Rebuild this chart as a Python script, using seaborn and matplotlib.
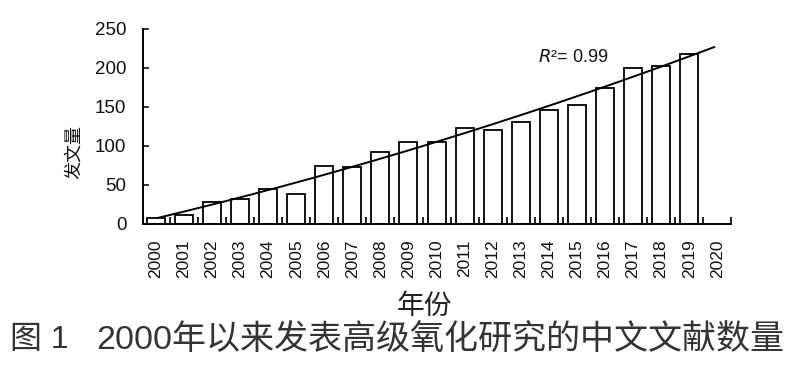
import numpy as np
import pandas as pd
import matplotlib.pyplot as plt
import seaborn as sns

# ===============================
# DATA
# ===============================
years = [str(y) for y in range(2000, 2021)]
bar_years = years[:20]
counts = [8, 11, 28, 32, 45, 39, 74, 73, 92, 105,
          105, 123, 120, 131, 146, 152, 174, 200, 202, 218]
y_ticks = [0, 50, 100, 150, 200, 250]
r2_label = "0.99"

df = pd.DataFrame({"year": bar_years, "count": counts})

# ===============================
# STYLE
# ===============================
sns.set_theme(style="ticks")
plt.rcParams["font.family"] = ["Liberation Sans", "Noto Sans CJK SC", "DejaVu Sans"]
ink = "#111111"

fig = plt.figure(figsize=(7.94, 3.66), dpi=100)
ax = fig.add_axes([0.180, 0.388, 0.741, 0.533])

sns.barplot(data=df, x="year", y="count", order=years, ax=ax,
            color="white", edgecolor="black", linewidth=1.3,
            width=0.64, saturation=1)

# quadratic trend line (R^2 = 0.99)
pos = np.arange(len(counts))
coef = np.polyfit(pos, counts, 2)
xs = np.linspace(0.1, 19.9, 200)
ax.plot(xs, np.polyval(coef, xs), color="black", lw=1.4)

ax.text(13.6, 213, "$R$²= " + r2_label, fontsize=13, color=ink,
        va="center", ha="left")

# ===============================
# AXES
# ===============================
ax.set_xlim(-0.46, 20.35)
ax.set_ylim(0, 250)
ax.set_yticks(y_ticks)
ax.tick_params(axis="y", direction="in", length=4, width=1.2,
               labelsize=13.5, pad=12, colors=ink)
ax.set_xticks(range(len(years)))
ax.set_xticklabels(years, rotation=90)
ax.tick_params(axis="x", which="major", length=0, labelsize=12.5,
               pad=11, colors=ink)
ax.set_xticks(np.arange(len(years)) + 0.5, minor=True)
ax.tick_params(axis="x", which="minor", direction="in", length=5,
               width=1.2, color="black")
for s in ["top", "right"]:
    ax.spines[s].set_visible(False)
for s in ["left", "bottom"]:
    ax.spines[s].set_linewidth(1.4)
    ax.spines[s].set_color("black")
ax.set_xlabel("")
ax.set_ylabel("")

# ===============================
# LABELS
# ===============================
fig.text(0.093, 0.585, "发文量", rotation=90, fontsize=13, color=ink,
         ha="center", va="center", family=["Noto Sans CJK SC"])
fig.text(0.535, 0.165, "年份", fontsize=20, color="#222222",
         ha="center", va="center", family=["Noto Sans CJK SC"])
fig.text(0.012, 0.07, "图 1", fontsize=23, color="#333333",
         ha="left", va="center", family=["Liberation Sans", "Noto Sans CJK SC"])
fig.text(0.121, 0.07, "2000年以来发表高级氧化研究的中文文献数量", fontsize=24.5,
         color="#333333", ha="left", va="center",
         family=["Liberation Sans", "Noto Sans CJK SC"])

plt.savefig("out.png", dpi=100)
plt.close()
